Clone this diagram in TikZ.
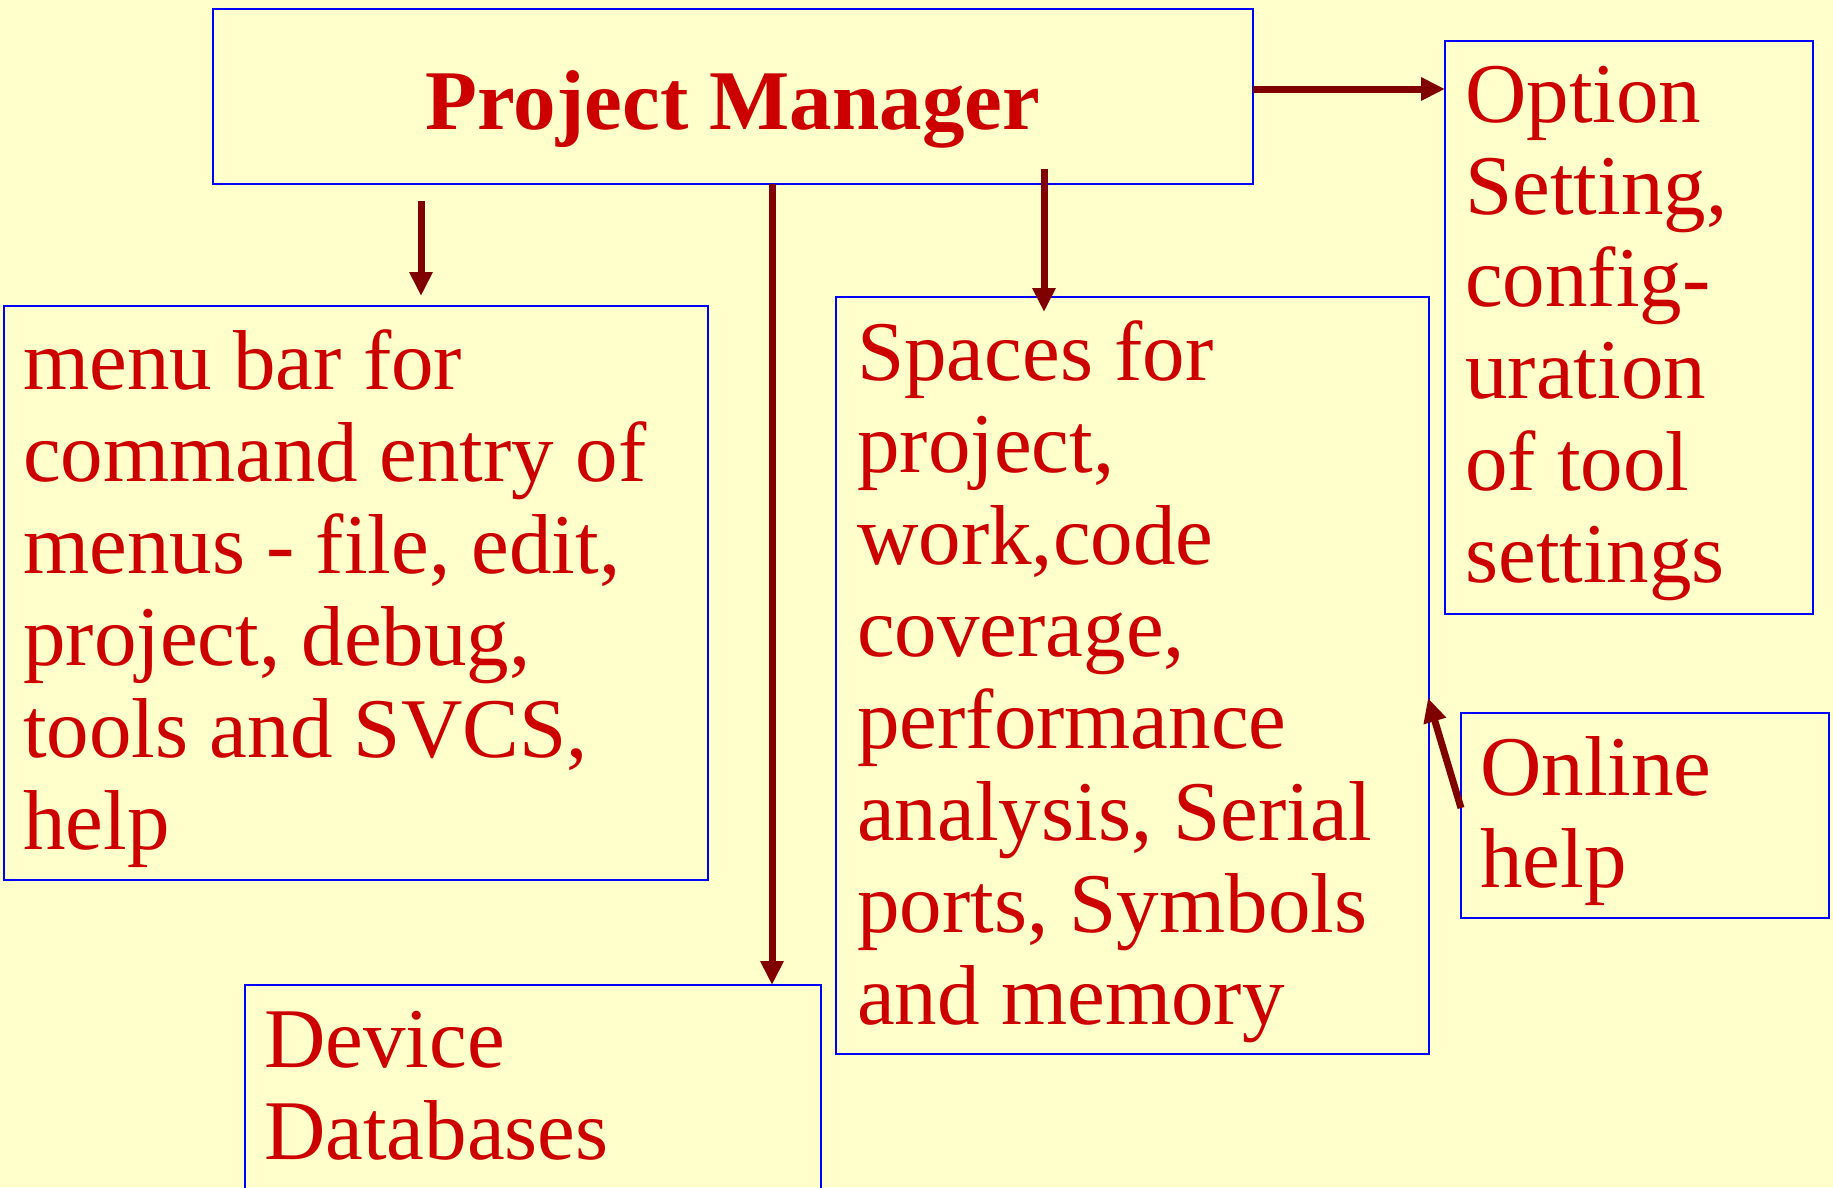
\documentclass[tikz,border=0pt]{standalone}
\usepackage{fontspec}
\setmainfont{Liberation Serif}
\usetikzlibrary{arrows.meta}
\definecolor{bg}{HTML}{FFFFCC}
\definecolor{txtred}{HTML}{CC0000}
\definecolor{arrred}{HTML}{800000}
\definecolor{boxblue}{HTML}{0000FF}
\newcommand\tlines[1]{\begin{tabular}[t]{@{}l@{}}#1\end{tabular}}
\begin{document}
\begin{tikzpicture}[x=1pt,y=-1pt,
  box/.style={draw=boxblue, line width=2pt, rectangle, inner sep=0pt, outer sep=0pt, anchor=north west},
  lbl/.style={text=txtred, font=\fontsize{85}{92}\selectfont, inner sep=0pt, anchor=base west},
  conn/.style={draw=arrred, line width=7pt, -{Triangle[length=24pt,width=22pt]}}]
\useasboundingbox (0,0) rectangle (1833,1187);
\clip (0,0) rectangle (1833,1187);
\fill[bg] (0,0) rectangle (1833,1187);

% boxes
\node[box, minimum width=1040pt, minimum height=175pt] (pm) at (213,9) {};
\node[box, minimum width=368pt, minimum height=573pt] (opt) at (1445,41) {};
\node[box, minimum width=704pt, minimum height=574pt] (menu) at (4,306) {};
\node[box, minimum width=593pt, minimum height=757pt] (spaces) at (836,297) {};
\node[box, minimum width=368pt, minimum height=205pt] (online) at (1461,713) {};
\node[box, minimum width=576pt, minimum height=240pt] (dev) at (245,985) {};

% texts
\node[lbl, font=\fontsize{85}{92}\selectfont\bfseries, anchor=base] (pmt) at (733,129) {Project Manager};
\node[lbl] (optt) at (1465,122) {\tlines{Option\\Setting,\\config-\\uration\\of tool\\settings}};
\node[lbl] (menut) at (23,389) {\tlines{menu bar for\\command entry of\\menus - file, edit,\\project, debug,\\tools and SVCS,\\help}};
\node[lbl] (spacest) at (857,380) {\tlines{Spaces for\\project,\\work,code\\coverage,\\performance\\analysis, Serial\\ports, Symbols\\and memory}};
\node[lbl] (onlinet) at (1480,795) {\tlines{Online\\help}};
\node[lbl] (devt) at (264,1067) {\tlines{Device\\Databases}};

% connectors
\coordinate (a1s) at (1253,89);
\draw[conn] (a1s) -- (a1s -| opt.west);
\coordinate (a2s) at (421,201);
\coordinate (a2e) at (421,296);
\draw[conn] (a2s) -- (a2e);
\coordinate (a3s) at (772,184);
\draw[conn] (a3s) -- (a3s |- dev.north);
\coordinate (a4s) at (1044,169);
\coordinate (a4e) at (1044,312);
\draw[conn] (a4s) -- (a4e);
\coordinate (a5s) at (1461,808);
\coordinate (a5e) at (1428,698);
\draw[conn] (a5s) -- (a5e);
\end{tikzpicture}
\end{document}
